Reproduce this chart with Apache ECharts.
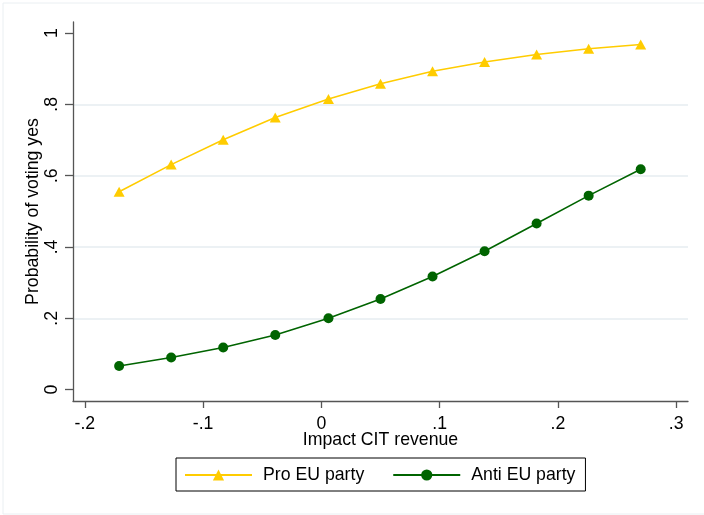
<!DOCTYPE html>
<html>
<head>
<meta charset="utf-8">
<script src="https://cdn.jsdelivr.net/npm/echarts@6/dist/echarts.min.js"></script>
<style>
  html, body { margin: 0; padding: 0; background: #fff; }
  #main { width: 704px; height: 515px; }
</style>
</head>
<body>
<div id="main"></div>
<script>
// impact on CIT revenue (x) and predicted probability of a yes vote
var impactCIT = [-0.171, -0.127, -0.083, -0.039, 0.006, 0.050, 0.094, 0.138, 0.182, 0.226, 0.270];
var proEU = [0.555, 0.631, 0.701, 0.763, 0.815, 0.858, 0.893, 0.919, 0.940, 0.956, 0.968];
var antiEU = [0.066, 0.090, 0.118, 0.153, 0.200, 0.254, 0.317, 0.388, 0.466, 0.544, 0.618];
var xTicks = [-0.2, -0.1, 0, 0.1, 0.2, 0.3];
var yTicks = [0, 0.2, 0.4, 0.6, 0.8, 1];

var font = 'Liberation Sans, Arial, sans-serif';
var fontSize = 17.7;

// stata style labels: ".2" instead of "0.2"
function stataLabel(v) {
  var s = String(Math.round(v * 10) / 10);
  return s.replace('0.', '.');
}

function pairs(xs, ys) {
  var out = [];
  for (var i = 0; i < xs.length; i++) {
    out.push([xs[i], ys[i]]);
  }
  return out;
}

var chart = echarts.init(document.getElementById('main'), null, { renderer: 'canvas' });

chart.setOption({
  backgroundColor: '#fff',
  animation: false,
  textStyle: { fontFamily: font },
  graphic: [{
    type: 'rect',
    shape: { x: 3, y: 3, width: 720, height: 511 },
    style: { fill: 'none', stroke: '#eaeff2', lineWidth: 1 },
    silent: true
  }],
  grid: {
    left: 73,
    right: 16,
    top: 22,
    bottom: 114,
    outerBoundsMode: 'none',
    containLabel: false
  },
  legend: {
    left: 176,
    top: 458,
    orient: 'horizontal',
    itemWidth: 67,
    itemHeight: 14,
    itemGap: 28,
    padding: [8, 10, 7, 8],
    borderColor: '#000',
    borderWidth: 1,
    textStyle: { fontFamily: font, fontSize: fontSize, color: '#000', padding: [0, 0, 0, 6] },
    data: ['Pro EU party', 'Anti EU party']
  },
  xAxis: {
    type: 'value',
    min: -0.21,
    max: 0.31,
    name: 'Impact CIT revenue',
    nameLocation: 'middle',
    nameGap: 30,
    nameMoveOverlap: false,
    nameTextStyle: { fontFamily: font, fontSize: fontSize, color: '#000' },
    axisLine: { show: true, onZero: false, lineStyle: { color: '#555', width: 1.3 } },
    axisTick: { show: true, length: 7, customValues: xTicks, lineStyle: { color: '#555', width: 1.3 } },
    axisLabel: {
      customValues: xTicks,
      margin: 14,
      fontSize: fontSize,
      color: '#000',
      formatter: stataLabel
    },
    splitLine: { show: false }
  },
  yAxis: {
    type: 'value',
    min: -0.032,
    max: 1.031,
    name: 'Probability of voting yes',
    nameLocation: 'middle',
    nameGap: 31,
    nameMoveOverlap: false,
    nameTextStyle: { fontFamily: font, fontSize: fontSize, color: '#000' },
    axisLine: { show: true, onZero: false, lineStyle: { color: '#555', width: 1.3 } },
    axisTick: { show: true, length: 8, customValues: yTicks, lineStyle: { color: '#555', width: 1.3 } },
    axisLabel: {
      customValues: yTicks,
      rotate: 90,
      margin: 12,
      fontSize: fontSize,
      color: '#000',
      formatter: stataLabel
    },
    splitLine: {
      show: true,
      showMinLine: false,
      showMaxLine: false,
      lineStyle: { color: '#e6edf0', width: 1.5 }
    }
  },
  series: [
    {
      name: 'Pro EU party',
      type: 'line',
      data: pairs(impactCIT, proEU),
      symbol: 'triangle',
      symbolSize: [11, 10],
      itemStyle: { color: '#ffcc00' },
      lineStyle: { color: '#ffcc00', width: 1.6 }
    },
    {
      name: 'Anti EU party',
      type: 'line',
      data: pairs(impactCIT, antiEU),
      symbol: 'circle',
      symbolSize: 10,
      itemStyle: { color: '#006400' },
      lineStyle: { color: '#006400', width: 1.6 }
    }
  ]
});
</script>
</body>
</html>
